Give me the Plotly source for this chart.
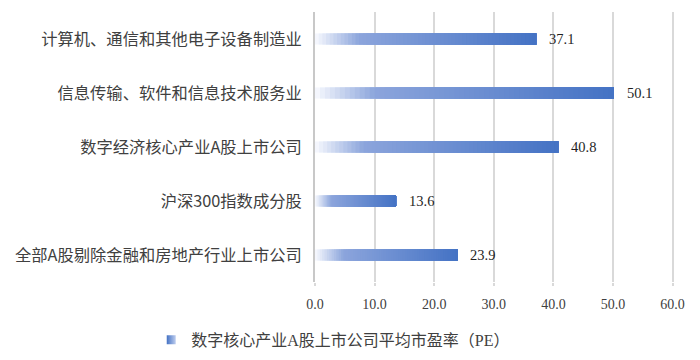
import plotly.graph_objects as go

categories = [
    "计算机、通信和其他电子设备制造业",
    "信息传输、软件和信息技术服务业",
    "数字经济核心产业A股上市公司",
    "沪深300指数成分股",
    "全部A股剔除金融和房地产行业上市公司",
]
pe_values = [37.1, 50.1, 40.8, 13.6, 23.9]
value_labels = ["37.1", "50.1", "40.8", "13.6", "23.9"]
series_name = "数字核心产业A股上市公司平均市盈率（PE）"
x_ticks = [0, 10, 20, 30, 40, 50, 60]
x_tick_labels = ["0.0", "10.0", "20.0", "30.0", "40.0", "50.0", "60.0"]

# gradient stops (fraction along bar, rgb)
stops = [(0.0, (248, 250, 254)), (0.2, (140, 165, 220)), (1.0, (68, 114, 196))]
N_SEG = 60


def color_at(t):
    for (t0, c0), (t1, c1) in zip(stops[:-1], stops[1:]):
        if t0 <= t <= t1:
            f = (t - t0) / (t1 - t0)
            return "rgb(%d,%d,%d)" % tuple(round(a + (b - a) * f) for a, b in zip(c0, c1))
    return "rgb(%d,%d,%d)" % stops[-1][1]


fig = go.Figure()
# each segment runs from its start to the bar end; later segments overlay earlier ones
for i in range(N_SEG):
    t = (i + 0.5) / N_SEG
    fig.add_trace(go.Bar(
        y=categories,
        x=[v * (1 - i / N_SEG) for v in pe_values],
        base=[v * i / N_SEG for v in pe_values],
        orientation="h",
        width=0.2,
        marker=dict(color=color_at(t), line=dict(width=0)),
        showlegend=False,
        hoverinfo="skip",
    ))

# legend entry (small gradient square)
fig.add_trace(go.Scatter(
    x=[None], y=[None], mode="markers", name=series_name, showlegend=True,
    marker=dict(symbol="square", size=9, color="rgb(68,114,196)",
                gradient=dict(type="horizontal", color="rgb(190,205,238)"),
                line=dict(width=0)),
))

for cat, v, lab in zip(categories, pe_values, value_labels):
    fig.add_annotation(
        x=v, y=cat, text=lab, showarrow=False, xanchor="left", xshift=11,
        font=dict(family="Liberation Serif, Times New Roman, serif", size=14.5, color="#1f1f1f"),
    )

# page body has an 8px default margin, so the figure is sized 692x352
fig.update_layout(
    width=692, height=352,
    margin=dict(l=307, r=25, t=4, b=78),
    paper_bgcolor="white", plot_bgcolor="white",
    barmode="overlay",
    xaxis=dict(
        range=[0, 60.4], tickvals=x_ticks, ticktext=x_tick_labels,
        showgrid=True, gridcolor="#d9d9d9", gridwidth=1.5,
        zeroline=False, showline=False, ticks="outside", ticklen=3, tickcolor="#d9d9d9",
        tickwidth=1.5, ticklabelstandoff=6, automargin=False,
        tickfont=dict(family="Liberation Serif, Times New Roman, serif", size=14, color="#404040"),
    ),
    yaxis=dict(
        categoryorder="array", categoryarray=categories[::-1],
        showgrid=False, zeroline=False, showline=True, linecolor="#c8c8c8", linewidth=2,
        ticks="", ticklabelstandoff=8, automargin=False,
        tickfont=dict(family="Noto Sans CJK SC, sans-serif", size=16.3, color="#404040"),
    ),
    legend=dict(
        orientation="h", xref="container", yref="container", x=0.47, y=0.057,
        xanchor="center", yanchor="middle", itemwidth=30,
        font=dict(family="Liberation Serif, Noto Sans CJK SC, serif", size=16, color="#404040"),
    ),
)

fig.write_html("out.html")
